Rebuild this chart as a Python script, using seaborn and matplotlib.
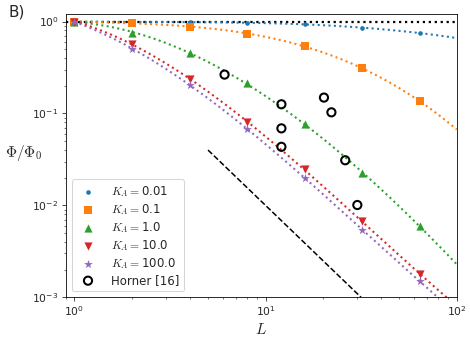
import numpy as np
import pandas as pd
import matplotlib
matplotlib.use("Agg")
import matplotlib.pyplot as plt
import seaborn as sns

# ── Data ─────────────────────────────────────────────────────────────────────
L = [1, 2, 4, 8, 16, 32, 64]
phi_k001 = [1.0, 0.99, 0.985, 0.975, 0.93, 0.86, 0.75]
phi_k01 = [1.0, 0.97, 0.875, 0.74, 0.54, 0.31, 0.136]
phi_k1 = [1.0, 0.75, 0.455, 0.216, 0.0766, 0.0223, 0.006]
phi_k10 = [1.0, 0.572, 0.24, 0.080, 0.0246, 0.0067, 0.0018]
phi_k100 = [1.0, 0.505, 0.205, 0.0686, 0.020, 0.0054, 0.0015]

horner_L = [6.1, 12.1, 12.1, 12.1, 20.2, 22.1, 26.1, 30.2]
horner_phi = [0.265, 0.126, 0.0689, 0.0434, 0.149, 0.103, 0.031, 0.0101]

# L^-2 reference slope
ref_L = [5.0, 31.6]
ref_phi = [0.04, 0.001]

SERIES = [
    (r"$K_A=$0.01", phi_k001, ".", "#1f77b4", 9),
    (r"$K_A=$0.1", phi_k01, "s", "#ff7f0e", 8),
    (r"$K_A=$1.0", phi_k1, "^", "#2ca02c", 8),
    (r"$K_A=$10.0", phi_k10, "v", "#d62728", 8),
    (r"$K_A=$100.0", phi_k100, "*", "#9467bd", 9),
]

# ── Style ────────────────────────────────────────────────────────────────────
sns.set_style("ticks")
plt.rcParams["font.family"] = ["DejaVu Sans"]
plt.rcParams["xtick.direction"] = "out"
plt.rcParams["ytick.direction"] = "out"

fig = plt.figure(figsize=(6.4, 344 / 73.44), dpi=73.44)
ax = fig.add_axes([0.1398, 0.1357, 0.9717 - 0.1398, 0.9584 - 0.1357])
ax.set_xscale("log")
ax.set_yscale("log")

L_fine = np.logspace(0, 2, 200)
for label, phi, marker, color, ms in SERIES:
    sns.scatterplot(x=L, y=phi, marker=marker, color=color, s=ms ** 2,
                    edgecolor=color, linewidth=0, label=label, ax=ax, zorder=3)
    # smooth fit in log-log space
    coef = np.polyfit(np.log10(L), np.log10(phi), 3)
    fit = 10 ** np.polyval(coef, np.log10(L_fine))
    sns.lineplot(x=L_fine, y=fit, color=color, linestyle=":", linewidth=2,
                 ax=ax, zorder=2, estimator=None, sort=False)

sns.scatterplot(x=horner_L, y=horner_phi, marker="o", color="none", edgecolor="k",
                linewidth=2, s=64, label="Horner [16]", ax=ax, zorder=4)

ax.axhline(1.0, color="k", linestyle=":", linewidth=2.2, zorder=1)
sns.lineplot(x=ref_L, y=ref_phi, color="k", linestyle="--", linewidth=1.5, ax=ax)

ax.set_xlim(0.9, 100)
ax.set_ylim(1e-3, 1.2)
ax.set_xlabel(r"$L$", fontsize=15, math_fontfamily="cm")
ax.set_ylabel(r"$\Phi/\Phi_0$", fontsize=15, math_fontfamily="cm",
              rotation=0, ha="center", va="center")
ax.yaxis.set_label_coords(-0.108, 0.51)
ax.tick_params(labelsize=10.5)
for s in ax.spines.values():
    s.set_visible(True)
    s.set_color("black")

leg = ax.legend(loc="lower left", fontsize=11.5, scatterpoints=1,
                handlelength=2, handletextpad=0.95, labelspacing=0.25)
for t in leg.get_texts():
    t.set_math_fontfamily("cm")
fig.text(0.019, 0.988, "B)", fontsize=15, va="top", ha="left")

fig.savefig("out.png", dpi=73.44)
